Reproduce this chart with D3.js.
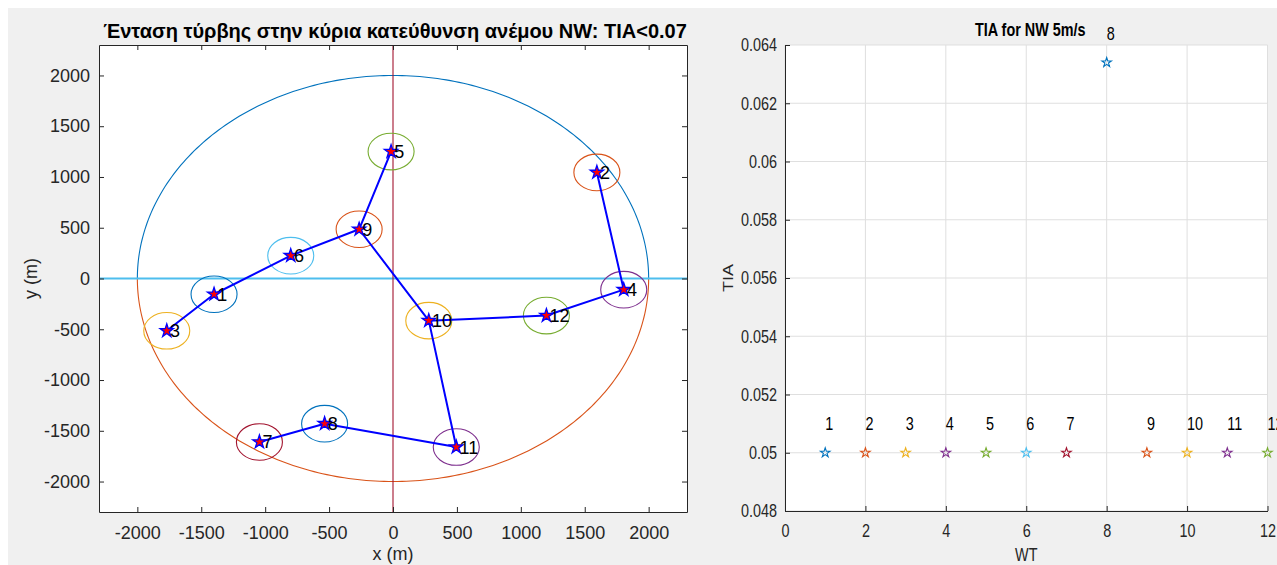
<!DOCTYPE html>
<html>
<head>
<meta charset="utf-8">
<script src="https://cdn.jsdelivr.net/npm/d3@7/dist/d3.min.js"></script>
<style>
  html, body { margin: 0; padding: 0; background: #ffffff; }
  svg { display: block; }
  text { font-family: "Liberation Sans", Arial, Helvetica, sans-serif; }
</style>
</head>
<body>
<svg id="fig" width="1277" height="565"></svg>
<script>
// ---- Wind farm layout (metres) ----
const turbineIds = [1, 2, 3, 4, 5, 6, 7, 8, 9, 10, 11, 12];
const turbineX = [-1400, 1595, -1770, 1805, -15, -800, -1045, -535, -265, 280, 495, 1200];
const turbineY = [-155, 1045, -515, -110, 1250, 225, -1610, -1430, 485, -415, -1660, -365];
// cable connections between turbines (by id)
const cableFrom = [3, 1, 6, 9, 9, 10, 12, 4, 10, 11, 8];
const cableTo   = [1, 6, 9, 5, 10, 12, 4, 2, 11, 8, 7];
const farmRadius = 2000;
const wakeRadius = 180;
const layoutTicks = [-2000, -1500, -1000, -500, 0, 500, 1000, 1500, 2000];

// ---- Turbulence intensity per turbine ----
const wtIds = [1, 2, 3, 4, 5, 6, 7, 8, 9, 10, 11, 12];
const tiaValues = [0.05, 0.05, 0.05, 0.05, 0.05, 0.05, 0.05, 0.0634, 0.05, 0.05, 0.05, 0.05];
const wtTicks = [0, 2, 4, 6, 8, 10, 12];
const tiaTicks = [0.048, 0.05, 0.052, 0.054, 0.056, 0.058, 0.06, 0.062, 0.064];

const titleLeft = "Ένταση τύρβης στην κύρια κατεύθυνση ανέμου NW: TIA<0.07";
const titleRight = "TIA for NW 5m/s";

// MATLAB default colour order
const colorOrder = ["#0072BD", "#D95319", "#EDB120", "#7E2F8E", "#77AC30", "#4DBEEE", "#A2142F"];
const axisColor = "#262626";

const svg = d3.select("#fig");
svg.append("rect").attr("x", 8).attr("y", 8).attr("width", 1269).attr("height", 557).attr("fill", "#f0f0f0");

function starPath(r) {
  const ri = r * 0.382;
  const pts = [];
  for (let k = 0; k < 10; k++) {
    const a = -Math.PI / 2 + k * Math.PI / 5;
    const rr = k % 2 === 0 ? r : ri;
    pts.push([rr * Math.cos(a), rr * Math.sin(a)]);
  }
  return "M" + pts.map(p => p[0].toFixed(2) + "," + p[1].toFixed(2)).join("L") + "Z";
}

function styleAxis(g, fontSize) {
  g.attr("font-size", fontSize).attr("font-family", '"Liberation Sans", Arial, sans-serif');
  g.selectAll("path.domain").attr("stroke", axisColor).attr("stroke-width", 1);
  g.selectAll(".tick line").attr("stroke", axisColor).attr("stroke-width", 1);
  g.selectAll(".tick text").attr("fill", axisColor);
}

// =================== Left: layout map ===================
(function () {
  const L = { left: 99, right: 687, top: 45, bottom: 512 };
  const x = d3.scaleLinear().domain([-2300, 2300]).range([L.left, L.right]);
  const y = d3.scaleLinear().domain([-2300, 2300]).range([L.bottom, L.top]);
  const g = svg.append("g");

  g.append("rect").attr("x", L.left).attr("y", L.top)
    .attr("width", L.right - L.left).attr("height", L.bottom - L.top).attr("fill", "#fff");

  const clipId = "clipL";
  g.append("clipPath").attr("id", clipId).append("rect")
    .attr("x", L.left).attr("y", L.top).attr("width", L.right - L.left).attr("height", L.bottom - L.top);
  const plot = g.append("g").attr("clip-path", `url(#${clipId})`);

  // boundary circle: upper half and lower half
  const arcLine = d3.line().x(t => x(farmRadius * Math.cos(t))).y(t => y(farmRadius * Math.sin(t)));
  const upper = d3.range(0, 181).map(d => d * Math.PI / 180);
  const lower = d3.range(180, 361).map(d => d * Math.PI / 180);
  plot.append("path").attr("d", arcLine(upper)).attr("fill", "none").attr("stroke", colorOrder[0]).attr("stroke-width", 1.1);
  plot.append("path").attr("d", arcLine(lower)).attr("fill", "none").attr("stroke", colorOrder[1]).attr("stroke-width", 1.1);

  // reference axes lines
  plot.append("line").attr("x1", x(-2300)).attr("x2", x(2300)).attr("y1", y(0)).attr("y2", y(0))
    .attr("stroke", colorOrder[5]).attr("stroke-width", 2);
  plot.append("line").attr("x1", x(0)).attr("x2", x(0)).attr("y1", y(-2300)).attr("y2", y(2300))
    .attr("stroke", colorOrder[6]).attr("stroke-width", 1.1);

  // wake circles around each turbine
  plot.selectAll("ellipse.wake").data(turbineIds).join("ellipse")
    .attr("class", "wake")
    .attr("cx", (d, i) => x(turbineX[i])).attr("cy", (d, i) => y(turbineY[i]))
    .attr("rx", x(wakeRadius) - x(0)).attr("ry", y(0) - y(wakeRadius))
    .attr("fill", "none").attr("stroke", (d, i) => colorOrder[i % 7]).attr("stroke-width", 1.1);

  // cables
  const idx = id => turbineIds.indexOf(id);
  plot.selectAll("line.cable").data(cableFrom).join("line")
    .attr("class", "cable")
    .attr("x1", (d) => x(turbineX[idx(d)])).attr("y1", (d) => y(turbineY[idx(d)]))
    .attr("x2", (d, i) => x(turbineX[idx(cableTo[i])])).attr("y2", (d, i) => y(turbineY[idx(cableTo[i])]))
    .attr("stroke", "#0000FF").attr("stroke-width", 2).attr("stroke-linecap", "round");

  // turbine markers
  plot.selectAll("path.wt").data(turbineIds).join("path")
    .attr("class", "wt")
    .attr("transform", (d, i) => `translate(${x(turbineX[i])},${y(turbineY[i])})`)
    .attr("d", starPath(7))
    .attr("fill", "#FF0000").attr("stroke", "#0000FF").attr("stroke-width", 1.3).attr("stroke-linejoin", "miter");

  // turbine numbers
  plot.selectAll("text.wtlabel").data(turbineIds).join("text")
    .attr("class", "wtlabel")
    .attr("x", (d, i) => x(turbineX[i] + 25)).attr("y", (d, i) => y(turbineY[i]))
    .attr("dy", "0.36em").attr("font-size", 18).attr("fill", "#000")
    .text(d => d);

  // axes (inward ticks, box on)
  const ax = [
    g.append("g").attr("transform", `translate(0,${L.bottom})`)
      .call(d3.axisBottom(x).tickValues(layoutTicks).tickSizeInner(-5).tickSizeOuter(0).tickPadding(14).tickFormat(d3.format("d"))),
    g.append("g").attr("transform", `translate(0,${L.top})`)
      .call(d3.axisTop(x).tickValues(layoutTicks).tickSizeInner(-5).tickSizeOuter(0).tickFormat("")),
    g.append("g").attr("transform", `translate(${L.left},0)`)
      .call(d3.axisLeft(y).tickValues(layoutTicks).tickSizeInner(-5).tickSizeOuter(0).tickPadding(9).tickFormat(d3.format("d"))),
    g.append("g").attr("transform", `translate(${L.right},0)`)
      .call(d3.axisRight(y).tickValues(layoutTicks).tickSizeInner(-5).tickSizeOuter(0).tickFormat(""))
  ];
  ax.forEach(a => styleAxis(a, 18));
  ax.forEach(a => a.selectAll(".tick text").text(function () { return this.textContent.replace("−", "-"); }));

  g.append("text").attr("x", (L.left + L.right) / 2 + 2).attr("y", 37.5)
    .attr("text-anchor", "middle").attr("font-size", 20).attr("font-weight", "bold").attr("fill", "#000")
    .text(titleLeft);
  g.append("text").attr("x", (L.left + L.right) / 2).attr("y", 560)
    .attr("text-anchor", "middle").attr("font-size", 18).attr("fill", axisColor).text("x (m)");
  g.append("text").attr("transform", `translate(37,${(L.top + L.bottom) / 2}) rotate(-90)`)
    .attr("text-anchor", "middle").attr("font-size", 18).attr("fill", axisColor).text("y (m)");
})();

// =================== Right: TIA per turbine ===================
(function () {
  const R = { left: 785, right: 1267.5, top: 45, bottom: 511 };
  const sx = 0.8; // narrow text
  const x = d3.scaleLinear().domain([0, 12]).range([R.left, R.right]);
  const y = d3.scaleLinear().domain([0.048, 0.064]).range([R.bottom, R.top]);
  const g = svg.append("g");

  g.append("rect").attr("x", R.left).attr("y", R.top)
    .attr("width", R.right - R.left).attr("height", R.bottom - R.top).attr("fill", "#fff");

  // grid
  g.append("g").selectAll("line").data(wtTicks).join("line")
    .attr("x1", d => x(d)).attr("x2", d => x(d)).attr("y1", R.top).attr("y2", R.bottom)
    .attr("stroke", "#dfdfdf").attr("stroke-width", 1);
  g.append("g").selectAll("line").data(tiaTicks).join("line")
    .attr("x1", R.left).attr("x2", R.right).attr("y1", d => y(d)).attr("y2", d => y(d))
    .attr("stroke", "#dfdfdf").attr("stroke-width", 1);

  // markers
  g.selectAll("path.tia").data(tiaValues).join("path")
    .attr("class", "tia")
    .attr("transform", (d, i) => `translate(${x(wtIds[i])},${y(d)})`)
    .attr("d", starPath(5))
    .attr("fill", "none").attr("stroke", (d, i) => colorOrder[i % 7]).attr("stroke-width", 1.1);

  // value labels above markers
  g.selectAll("text.tialabel").data(tiaValues).join("text")
    .attr("class", "tialabel")
    .attr("transform", (d, i) => `translate(${x(wtIds[i])},${y(d + 0.001)}) scale(${sx},1)`)
    .attr("dy", "0.36em").attr("font-size", 18).attr("fill", "#000")
    .text((d, i) => wtIds[i]);

  const ax = [
    g.append("g").attr("transform", `translate(0,${R.bottom})`)
      .call(d3.axisBottom(x).tickValues(wtTicks).tickSizeInner(-5).tickSizeOuter(0).tickPadding(13).tickFormat(d3.format("d"))),
    g.append("g").attr("transform", `translate(${R.left},0)`)
      .call(d3.axisLeft(y).tickValues(tiaTicks).tickSizeInner(-5).tickSizeOuter(0).tickPadding(8).tickFormat(d3.format(".3~f")))
  ];
  ax.forEach(a => styleAxis(a, 18));
  ax.forEach(a => a.selectAll(".tick text").each(function () {
    const t = d3.select(this);
    const x0 = +t.attr("x") || 0;
    t.attr("x", x0 / sx).attr("transform", `scale(${sx},1)`);
  }));

  g.append("text").attr("transform", `translate(${(R.left + R.right) / 2 + 4},36) scale(${sx},1)`)
    .attr("text-anchor", "middle").attr("font-size", 18).attr("font-weight", "bold").attr("fill", "#000")
    .text(titleRight);
  g.append("text").attr("transform", `translate(${(R.left + R.right) / 2},561) scale(${sx},1)`)
    .attr("text-anchor", "middle").attr("font-size", 18).attr("fill", axisColor).text("WT");
  g.append("text").attr("transform", `translate(733,${(R.top + R.bottom) / 2}) rotate(-90) scale(1,${sx})`)
    .attr("text-anchor", "middle").attr("font-size", 18).attr("fill", axisColor).text("TIA");
})();
</script>
</body>
</html>
